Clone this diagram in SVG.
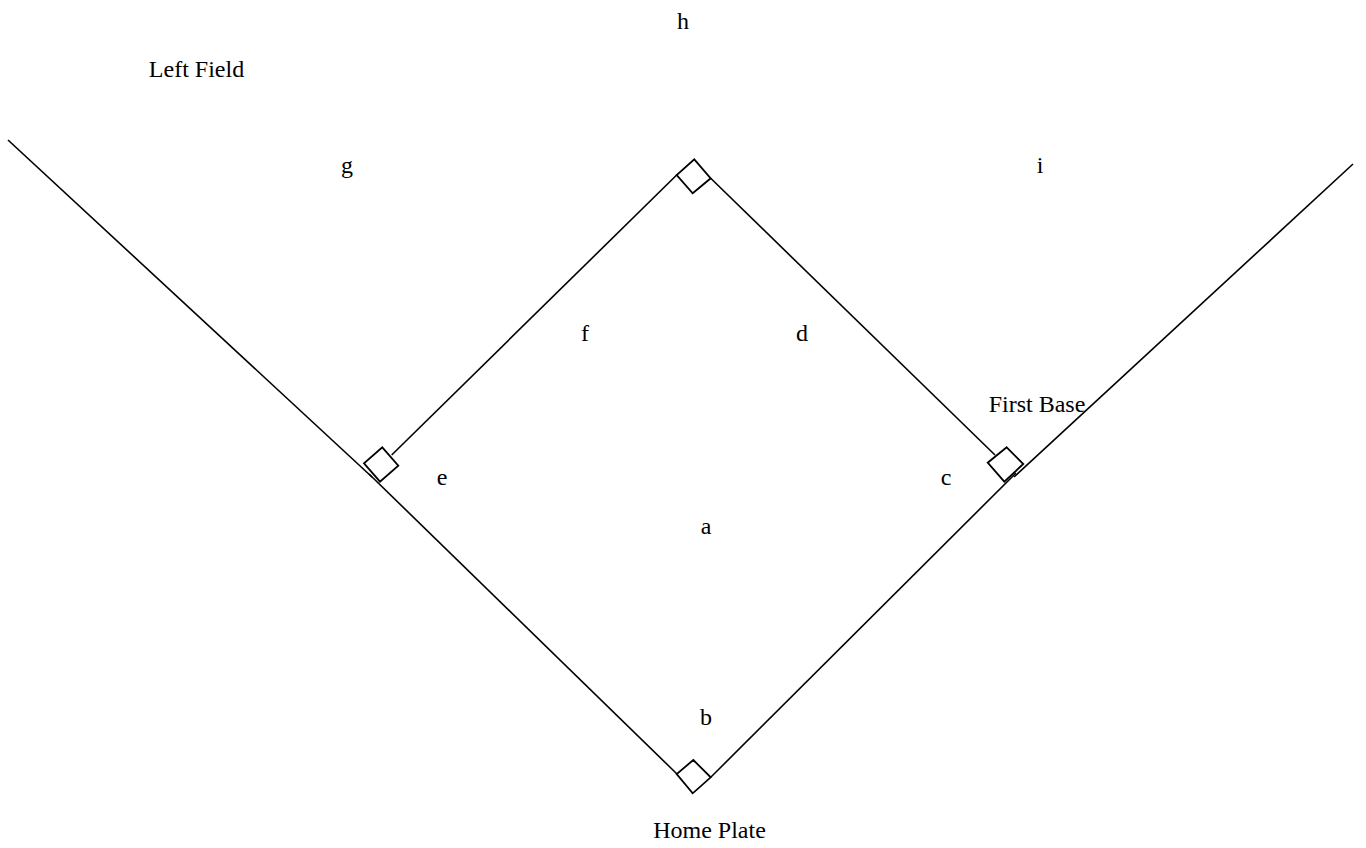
<svg xmlns="http://www.w3.org/2000/svg" width="1366" height="848" viewBox="0 0 1366 848">
<style>
.ln{stroke:#000;stroke-width:1.6;fill:none}
.base{stroke:#000;stroke-width:1.8;fill:#fff}
.t{font-size:24px;fill:#000;text-anchor:middle}
</style>
<rect width="1366" height="848" fill="#fff"/>
<g id="connectors">
<line class="ln" x1="8" y1="140" x2="372" y2="477"/>
<line class="ln" x1="369" y1="474" x2="677" y2="774"/>
<line class="ln" x1="711" y1="777" x2="1016" y2="473"/>
<line class="ln" x1="1014" y1="477" x2="1353" y2="164"/>
<line class="ln" x1="391.7" y1="455" x2="676.7" y2="175"/>
<line class="ln" x1="710.7" y1="178.3" x2="995" y2="455"/>
</g>
<g id="second-base"><polygon class="base" points="694.3,159.3 710.7,178.3 692.7,193.3 676.7,175"/></g>
<g id="third-base"><polygon class="base" points="382.3,447.3 398.3,465.7 380,481.7 364,463.3"/></g>
<g id="first-base"><polygon class="base" points="1006.7,447.3 1023.3,464 1004.3,481.7 987.7,462.7"/></g>
<g id="home-plate"><polygon class="base" points="693.3,760 710.7,777.3 692.7,793.3 676.7,774"/></g>
<g id="labels" font-family="Liberation Serif, Times New Roman, DejaVu Serif, serif">
<text class="t" x="683" y="29">h</text>
<text class="t" x="196.5" y="77">Left Field</text>
<text class="t" x="347" y="173">g</text>
<text class="t" x="1040" y="173">i</text>
<text class="t" x="585" y="341">f</text>
<text class="t" x="802" y="341">d</text>
<text class="t" x="1037" y="412">First Base</text>
<text class="t" x="442" y="485">e</text>
<text class="t" x="946" y="485">c</text>
<text class="t" x="706" y="534">a</text>
<text class="t" x="706" y="725">b</text>
<text class="t" x="709.5" y="838">Home Plate</text>
</g>
</svg>
